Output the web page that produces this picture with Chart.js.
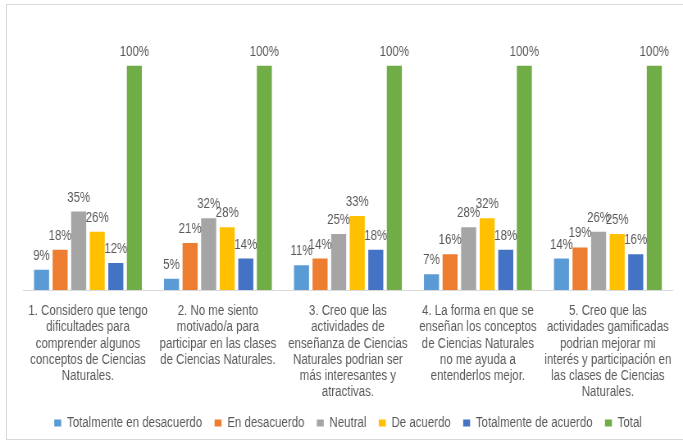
<!DOCTYPE html>
<html>
<head>
<meta charset="utf-8">
<script src="https://cdn.jsdelivr.net/npm/chart.js@4"></script>
<style>
  html, body { margin: 0; padding: 0; background: #ffffff; }
  #wrap { position: relative; width: 683px; height: 443px; overflow: hidden; }
  #frame { position: absolute; left: 6px; top: 4px; width: 690px; height: 436px; border: 1px solid #d9d9d9; box-sizing: border-box; }
  canvas { position: absolute; left: 0; top: 0; }
</style>
</head>
<body>
<div id="wrap">
  <div id="frame"></div>
  <canvas id="c" width="833" height="443" style="width:683px;height:443px"></canvas>
</div>
<script>
const categories = [
  ["1. Considero que tengo", "dificultades para", "comprender algunos", "conceptos de Ciencias", "Naturales."],
  ["2. No me siento", "motivado/a para", "participar en las clases", "de Ciencias Naturales."],
  ["3. Creo que las", "actividades de", "enseñanza de Ciencias", "Naturales podrian ser", "más interesantes y", "atractivas."],
  ["4. La forma en que se", "enseñan los conceptos", "de Ciencias Naturales", "no me ayuda a", "entenderlos mejor."],
  ["5. Creo que las", "actividades gamificadas", "podrian mejorar mi", "interés y participación en", "las clases de Ciencias", "Naturales."]
];
const seriesNames = ["Totalmente en desacuerdo", "En desacuerdo", "Neutral", "De acuerdo", "Totalmente de acuerdo", "Total"];
const totalmenteDesacuerdo = [9, 5, 11, 7, 14];
const enDesacuerdo = [18, 21, 14, 16, 19];
const neutral = [35, 32, 25, 28, 26];
const deAcuerdo = [26, 28, 33, 32, 25];
const totalmenteAcuerdo = [12, 14, 18, 18, 16];
const total = [100, 100, 100, 100, 100];
const colors = ["#5B9BD5", "#ED7D31", "#A5A5A5", "#FFC000", "#4472C4", "#70AD47"];

// Canvas is drawn 833px wide and shown at 683px: text appears condensed (like Arial Narrow)
const FONT = "'Liberation Sans', Arial, sans-serif";
const seriesValues = [totalmenteDesacuerdo, enDesacuerdo, neutral, deAcuerdo, totalmenteAcuerdo, total];

const labelPlugin = {
  id: 'valueLabels',
  afterDatasetsDraw(chart) {
    const ctx = chart.ctx;
    ctx.save();
    ctx.font = "14px " + FONT;
    ctx.fillStyle = "#595959";
    ctx.textAlign = "center";
    ctx.textBaseline = "alphabetic";
    chart.data.datasets.forEach((ds, i) => {
      const meta = chart.getDatasetMeta(i);
      meta.data.forEach((bar, j) => {
        ctx.fillText(ds.data[j] + "%", bar.x, bar.y - 10);
      });
    });
    ctx.restore();
  }
};

new Chart(document.getElementById('c'), {
  type: 'bar',
  data: {
    labels: categories,
    datasets: seriesNames.map((n, i) => ({
      label: n,
      data: seriesValues[i],
      backgroundColor: colors[i],
      borderWidth: 0,
      categoryPercentage: 0.857,
      barPercentage: 0.81
    }))
  },
  options: {
    responsive: false,
    maintainAspectRatio: false,
    devicePixelRatio: 1,
    animation: false,
    layout: { padding: { left: 28, right: 12, top: 21, bottom: 3 } },
    scales: {
      y: { display: false, min: 0, max: 120 },
      x: {
        grid: { display: false, drawTicks: false },
        border: { display: true, color: "#d9d9d9", width: 1 },
        afterFit: (s) => { s.height = 111; },
        ticks: {
          autoSkip: false, maxRotation: 0, minRotation: 0, padding: 13,
          color: "#595959",
          font: { family: FONT, size: 14, lineHeight: 1.164 }
        }
      }
    },
    plugins: {
      tooltip: { enabled: false },
      legend: {
        position: 'bottom',
        labels: {
          boxWidth: 8.5, boxHeight: 7, padding: 15,
          color: "#595959",
          font: { family: FONT, size: 14 }
        }
      }
    }
  },
  plugins: [labelPlugin]
});
</script>
</body>
</html>
